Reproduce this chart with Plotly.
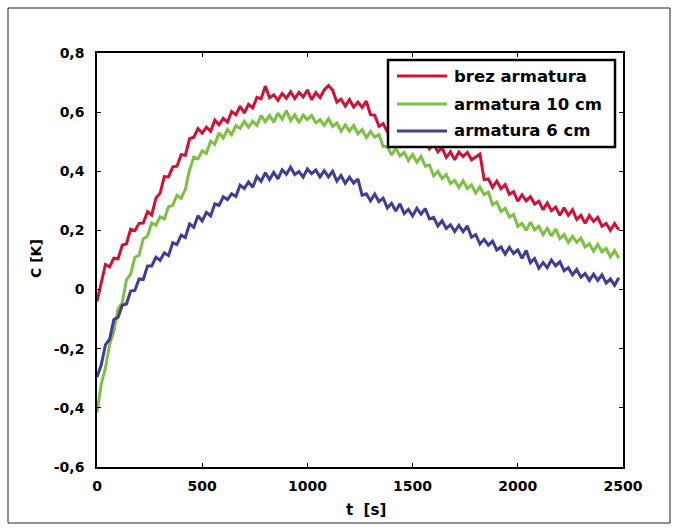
import plotly.graph_objects as go

# Sampling times [s]
time_s = list(range(0, 2500, 20))

# Measured curves
brez_armatura = [
    -0.040, 0.021, 0.085, 0.077, 0.106, 0.104, 0.150, 0.155, 0.204, 0.199,
    0.224, 0.225, 0.263, 0.252, 0.309, 0.326, 0.382, 0.381, 0.415, 0.417,
    0.456, 0.454, 0.510, 0.515, 0.544, 0.529, 0.549, 0.535, 0.573, 0.557,
    0.579, 0.566, 0.602, 0.591, 0.620, 0.597, 0.626, 0.614, 0.650, 0.645,
    0.688, 0.649, 0.659, 0.640, 0.663, 0.647, 0.669, 0.646, 0.667, 0.651,
    0.675, 0.642, 0.666, 0.649, 0.675, 0.690, 0.674, 0.634, 0.644, 0.620,
    0.643, 0.617, 0.634, 0.616, 0.637, 0.591, 0.590, 0.552, 0.561, 0.534,
    0.555, 0.535, 0.549, 0.519, 0.529, 0.505, 0.528, 0.502, 0.509, 0.476,
    0.492, 0.466, 0.480, 0.447, 0.466, 0.439, 0.465, 0.450, 0.464, 0.439,
    0.449, 0.458, 0.372, 0.374, 0.346, 0.367, 0.341, 0.355, 0.322, 0.331,
    0.299, 0.320, 0.300, 0.314, 0.289, 0.299, 0.270, 0.293, 0.267, 0.279,
    0.251, 0.277, 0.251, 0.270, 0.237, 0.251, 0.224, 0.250, 0.230, 0.244,
    0.214, 0.224, 0.200, 0.223, 0.202,
]

armatura_10cm = [
    -0.416, -0.320, -0.265, -0.186, -0.141, -0.066, -0.045, 0.033, 0.052, 0.109,
    0.116, 0.172, 0.181, 0.225, 0.217, 0.246, 0.239, 0.280, 0.285, 0.319,
    0.309, 0.339, 0.405, 0.448, 0.442, 0.469, 0.461, 0.502, 0.491, 0.530,
    0.512, 0.541, 0.524, 0.555, 0.545, 0.569, 0.549, 0.569, 0.555, 0.588,
    0.567, 0.589, 0.566, 0.597, 0.576, 0.605, 0.572, 0.591, 0.564, 0.590,
    0.575, 0.589, 0.564, 0.574, 0.555, 0.578, 0.552, 0.564, 0.536, 0.557,
    0.536, 0.555, 0.527, 0.541, 0.514, 0.535, 0.515, 0.524, 0.484, 0.484,
    0.455, 0.478, 0.452, 0.464, 0.436, 0.457, 0.431, 0.450, 0.417, 0.421,
    0.384, 0.400, 0.375, 0.389, 0.359, 0.369, 0.345, 0.368, 0.342, 0.354,
    0.326, 0.347, 0.321, 0.330, 0.287, 0.296, 0.264, 0.275, 0.245, 0.254,
    0.214, 0.224, 0.200, 0.228, 0.202, 0.214, 0.186, 0.207, 0.181, 0.205,
    0.172, 0.186, 0.159, 0.180, 0.160, 0.174, 0.144, 0.154, 0.130, 0.153,
    0.127, 0.139, 0.111, 0.132, 0.106,
]

armatura_6cm = [
    -0.296, -0.255, -0.187, -0.168, -0.101, -0.094, -0.053, -0.049, -0.005, -0.003,
    0.036, 0.034, 0.080, 0.080, 0.109, 0.099, 0.124, 0.115, 0.158, 0.152,
    0.184, 0.176, 0.222, 0.211, 0.250, 0.232, 0.261, 0.249, 0.290, 0.285,
    0.314, 0.304, 0.324, 0.315, 0.353, 0.342, 0.364, 0.346, 0.382, 0.366,
    0.395, 0.372, 0.396, 0.374, 0.405, 0.390, 0.414, 0.389, 0.399, 0.380,
    0.408, 0.392, 0.404, 0.381, 0.402, 0.381, 0.400, 0.367, 0.386, 0.359,
    0.380, 0.360, 0.374, 0.319, 0.324, 0.300, 0.323, 0.297, 0.309, 0.276,
    0.292, 0.266, 0.290, 0.257, 0.271, 0.249, 0.275, 0.255, 0.274, 0.239,
    0.244, 0.215, 0.233, 0.207, 0.219, 0.196, 0.217, 0.196, 0.215, 0.177,
    0.186, 0.154, 0.170, 0.150, 0.164, 0.134, 0.144, 0.120, 0.143, 0.122,
    0.134, 0.106, 0.132, 0.091, 0.105, 0.072, 0.091, 0.074, 0.100, 0.080,
    0.094, 0.064, 0.074, 0.050, 0.068, 0.042, 0.054, 0.031, 0.052, 0.031,
    0.050, 0.022, 0.036, 0.014, 0.040,
]

series_names = ["brez armatura", "armatura 10 cm", "armatura 6 cm"]
series_colors = ["#cf1237", "#7dc144", "#3e3d97"]

x_ticks = [0, 500, 1000, 1500, 2000, 2500]
x_tick_text = ["0", "500", "1000", "1500", "2000", "2500"]
y_ticks = [-0.6, -0.4, -0.2, 0, 0.2, 0.4, 0.6, 0.8]
y_tick_text = ["-0,6", "-0,4", "-0,2", "0", "0,2", "0,4", "0,6", "0,8"]

FONT = "DejaVu Sans"

fig = go.Figure()
for name, values, color in zip(series_names,
                               [brez_armatura, armatura_10cm, armatura_6cm],
                               series_colors):
    fig.add_trace(go.Scatter(
        x=time_s, y=values, mode="lines", name=name,
        line=dict(color=color, width=3), showlegend=False,
    ))

# plot area geometry in pixels (used to place the hand-built legend and frame)
W, H = 678, 531
L, R, T, B = 97, 55, 53, 64
pw, ph = W - L - R, H - T - B


def px(xp):
    return (xp - L) / pw


def py(yp):
    return (H - B - yp) / ph


shapes = []
annotations = []

# outer frame around the whole figure
shapes.append(dict(type="rect", xref="paper", yref="paper",
                   x0=px(8), x1=px(670), y0=py(523), y1=py(8),
                   line=dict(color="#222222", width=1), layer="below"))

# legend box
shapes.append(dict(type="rect", xref="paper", yref="paper",
                   x0=px(388), x1=px(615), y0=py(147), y1=py(60),
                   fillcolor="white", line=dict(color="black", width=2.5),
                   layer="above"))
row_y = [76, 104, 131]
for name, color, yy in zip(series_names, series_colors, row_y):
    shapes.append(dict(type="line", xref="paper", yref="paper",
                       x0=px(397), x1=px(447), y0=py(yy), y1=py(yy),
                       line=dict(color=color, width=3), layer="above"))
    annotations.append(dict(xref="paper", yref="paper", x=px(452), y=py(yy),
                            xanchor="left", yanchor="middle", showarrow=False,
                            text=name,
                            font=dict(family=FONT, size=16.5, color="black",
                                      weight="bold")))

# axis titles
annotations.append(dict(xref="paper", yref="paper", x=px(366), y=py(510),
                        xanchor="center", yanchor="middle", showarrow=False,
                        text="t  [s]",
                        font=dict(family=FONT, size=15, color="black",
                                  weight="bold")))
annotations.append(dict(xref="paper", yref="paper", x=px(36), y=py(259),
                        xanchor="center", yanchor="middle", showarrow=False,
                        text="C [K]", textangle=-90,
                        font=dict(family=FONT, size=14, color="black",
                                  weight="bold")))

axis_common = dict(
    showline=True, linecolor="black", linewidth=1.5, mirror="ticks",
    ticks="inside", ticklen=4, tickcolor="black", tickwidth=1,
    showgrid=False, zeroline=False,
    tickfont=dict(family=FONT, size=14, color="black", weight="bold"),
)

fig.update_xaxes(range=[0, 2500], tickvals=x_ticks, ticktext=x_tick_text,
                 ticklabelstandoff=5, **axis_common)
fig.update_yaxes(range=[-0.6, 0.8], tickvals=y_ticks, ticktext=y_tick_text,
                 ticklabelstandoff=8, **axis_common)

fig.update_layout(
    width=W, height=H,
    margin=dict(l=L, r=R, t=T, b=B, pad=0),
    paper_bgcolor="white", plot_bgcolor="white",
    font=dict(family=FONT, color="black"),
    shapes=shapes, annotations=annotations,
    showlegend=False,
)

fig.write_html("out.html")
